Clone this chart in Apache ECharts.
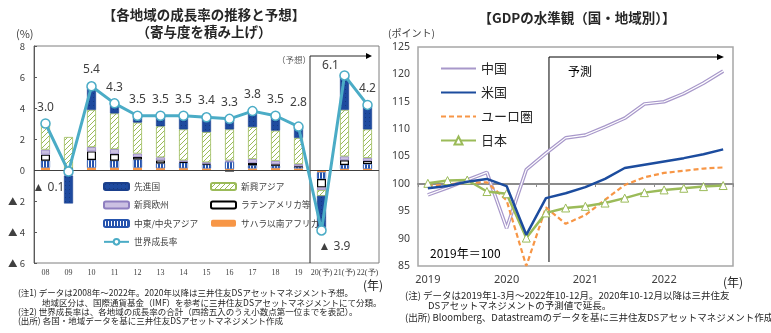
<!DOCTYPE html>
<html><head><meta charset="utf-8">
<script src="https://cdn.jsdelivr.net/npm/echarts@6/dist/echarts.min.js"></script>
<style>html,body{margin:0;padding:0;background:#fff}#c{width:771px;height:333px}</style>
</head><body><div id="c"></div>
<script>
// ---- Left chart data (contribution to world growth, %pt) ----
const growthCats = ['08','09','10','11','12','13','14','15','16','17','18','19','20(予)','21(予)','22(予)'];
const advanced = [0.0,-1.79,1.5,0.7,0.54,0.65,0.82,0.98,0.75,1.0,0.95,0.71,-2.2,2.28,1.5];
const emAsia   = [1.73,2.0,2.4,2.3,2.0,2.0,2.0,1.95,2.0,2.06,1.95,1.69,-0.37,3.0,1.84];
const emEurope = [0.32,-0.37,0.28,0.32,0.22,0.2,0.1,0.1,0.1,0.26,0.22,0.15,-0.17,0.25,0.2];
const latam    = [0.39,0.02,0.55,0.43,0.17,0.2,0.05,0.05,-0.1,0.15,0.1,0.03,-0.55,0.3,0.2];
const mideast  = [0.45,0.07,0.5,0.45,0.52,0.3,0.35,0.25,0.45,0.2,0.15,0.1,-0.43,0.25,0.3];
const ssa      = [0.15,0.04,0.15,0.15,0.15,0.12,0.12,0.1,0.07,0.1,0.12,0.1,-0.15,0.08,0.08];
const world    = [3.0,-0.1,5.4,4.3,3.5,3.5,3.5,3.4,3.3,3.8,3.5,2.8,-3.9,6.1,4.2];
const growthTicks = [-6,-4,-2,0,2,4,6,8];

// ---- Right chart data (GDP level, 2019=100) ----
const quarters = ['2019-1','2019-2','2019-3','2019-4','2020-1','2020-2','2020-3','2020-4',
                  '2021-1','2021-2','2021-3','2021-4','2022-1','2022-2','2022-3','2022-4'];
const china = [98.0,99.3,100.7,102.1,91.9,102.6,105.6,108.4,108.9,110.4,112.0,114.6,115.0,116.5,118.4,120.6];
const us    = [99.2,99.6,100.4,100.9,99.6,90.7,97.4,98.3,99.4,100.9,102.9,103.5,104.1,104.7,105.4,106.3];
const euro  = [99.6,99.9,100.2,100.3,97.0,85.0,95.7,92.7,94.3,97.1,99.8,101.2,102.0,102.4,102.8,103.0];
const japan = [100.1,100.6,100.7,98.6,98.2,90.1,94.7,95.6,95.9,96.5,97.4,98.4,98.9,99.2,99.5,99.7];

const JP = '"Noto Sans CJK JP","Noto Sans",sans-serif';

function pat(w,h,draw){const c=document.createElement('canvas');c.width=w;c.height=h;const g=c.getContext('2d');draw(g,w,h);return {image:c,repeat:'repeat'};}
const hatchGreen = pat(5,5,(g)=>{g.fillStyle='#fff';g.fillRect(0,0,5,5);g.strokeStyle='#9bbb59';g.lineWidth=1;g.beginPath();
  g.moveTo(0,5);g.lineTo(5,0);g.moveTo(-1,1);g.lineTo(1,-1);g.moveTo(4,6);g.lineTo(6,4);g.stroke();});
const stripeBlue = pat(3,3,(g)=>{g.fillStyle='#2553ad';g.fillRect(0,0,3,3);g.fillStyle='#fff';g.fillRect(1,0,1,3);});
const dotBlue = pat(4,4,(g)=>{g.fillStyle='#1e4a9f';g.fillRect(0,0,4,4);g.fillStyle='#163a80';g.fillRect(1,1,1,1);});

const chart = echarts.init(document.getElementById('c'), null, {renderer:'canvas'});

function bar(name, data, style){
  return {name, type:'bar', stack:'g', xAxisIndex:0, yAxisIndex:0, barWidth:9, data, itemStyle:style};
}
const labelFmt = p => (p.value<0 ? '▲ '+Math.abs(p.value).toFixed(1) : p.value.toFixed(1));
const worldData = world.map((v,i)=>{
  const d={value:v};
  if(i===1) d.label={position:'bottom',offset:[-20,0]};
  if(i===12) d.label={position:'bottom',offset:[13,0]};
  if(i===13) d.label={position:'top',offset:[-14,6]};
  if(i===11) d.label={position:'top',offset:[0,-8]};
  return d;
});
const noSym = n => ({name:n, itemStyle:{opacity:0}});

const option = {
  animation:false,
  textStyle:{fontFamily:JP},
  grid:[
    {left:34, top:46, width:345, height:217, show:true, borderColor:'#7f7f7f', borderWidth:1},
    {left:418, top:47, width:315, height:219, show:true, borderColor:'#a6a6a6', borderWidth:1.5}
  ],
  xAxis:[
    {gridIndex:0, type:'category', data:growthCats, axisLine:{show:false}, axisTick:{show:false},
     axisLabel:{fontSize:8, color:'#404040', margin:6, fontFamily:'"Liberation Serif",serif', interval:0}},
    {gridIndex:1, type:'category', data:quarters, axisLine:{show:false}, axisTick:{show:false},
     axisLabel:{fontSize:11, color:'#404040', margin:8, interval:3, formatter:v=>v.split('-')[0], fontFamily:'"Noto Sans",sans-serif'}},
    {gridIndex:1, type:'category', data:quarters, position:'bottom', offset:-82,
     axisLine:{show:true, lineStyle:{color:'#8c8c8c', width:2}},
     axisTick:{show:true, length:3, lineStyle:{color:'#8c8c8c'}}, axisLabel:{show:false}}
  ],
  yAxis:[
    {gridIndex:0, type:'value', min:-6, max:8, interval:2, splitLine:{show:false},
     axisLine:{show:true, lineStyle:{color:'#595959'}}, axisTick:{show:true, inside:true, length:3, lineStyle:{color:'#595959'}},
     axisLabel:{fontSize:9.5, color:'#404040', margin:9, formatter:v=>v<0?'▲ '+(-v):String(v)}},
    {gridIndex:1, type:'value', min:85, max:125, interval:5, splitLine:{show:false},
     axisLine:{show:false}, axisTick:{show:false},
     axisLabel:{fontSize:10.5, color:'#404040', margin:8, fontFamily:'"Noto Sans",sans-serif'}}
  ],
  legend:[
    {left:103, top:182, orient:'vertical', itemWidth:25, itemHeight:7, itemGap:9.5, padding:0,
     textStyle:{fontSize:8.7, color:'#404040', fontFamily:JP},
     data:['先進国','新興欧州','中東/中央アジア','世界成長率']},
    {left:210, top:182, orient:'vertical', itemWidth:25, itemHeight:7, itemGap:9.5, padding:0,
     textStyle:{fontSize:8.7, color:'#404040', fontFamily:JP},
     data:['新興アジア','ラテンアメリカ等','サハラ以南アフリカ']},
    {left:440, top:62, orient:'vertical', itemWidth:35, itemHeight:10, itemGap:11, padding:0,
     textStyle:{fontSize:13, color:'#262626', fontFamily:JP},
     data:[noSym('中国'),noSym('米国'),noSym('ユーロ圏'),'日本']}
  ],
  series:[
    bar('サハラ以南アフリカ', ssa, {color:'#f79646'}),
    bar('中東/中央アジア', mideast, {color:stripeBlue, borderColor:'#2553ad', borderWidth:0.5}),
    bar('ラテンアメリカ等', latam, {color:'#ffffff', borderColor:'#000', borderWidth:1.2}),
    bar('新興欧州', emEurope, {color:'#cbc0e2', borderColor:'#8f7fc0', borderWidth:0.8}),
    bar('新興アジア', emAsia, {color:hatchGreen, borderColor:'#9bbb59', borderWidth:0.8}),
    Object.assign(bar('先進国', advanced, {color:dotBlue, borderColor:'#1a3f8c', borderWidth:0.5}),
      {markLine:{silent:true, symbol:'none', label:{show:false}, lineStyle:{color:'#404040', width:1, type:'solid'}, data:[{yAxis:0}]}}),
    {name:'世界成長率', type:'line', xAxisIndex:0, yAxisIndex:0, data:worldData, z:5,
     lineStyle:{color:'#4bacc6', width:3}, itemStyle:{color:'#ffffff', borderColor:'#4bacc6', borderWidth:1.5},
     symbol:'circle', symbolSize:9, showAllSymbol:true,
     label:{show:true, position:'top', distance:5, fontSize:12, color:'#404040', formatter:labelFmt, fontFamily:'"Noto Sans",sans-serif'}},
    {name:'中国', type:'line', xAxisIndex:1, yAxisIndex:1, data:china, symbol:'none',
     lineStyle:{color:'#a898ca', width:3.6}, itemStyle:{color:'#a898ca'}},
    {name:'中国_inner', type:'line', xAxisIndex:1, yAxisIndex:1, data:china, symbol:'none', silent:true,
     lineStyle:{color:'#ffffff', width:1.2}},
    {name:'ユーロ圏', type:'line', xAxisIndex:1, yAxisIndex:1, data:euro, symbol:'none',
     lineStyle:{color:'#f79646', width:2.2, type:[5,3]}, itemStyle:{color:'#f79646'}},
    {name:'日本', type:'line', xAxisIndex:1, yAxisIndex:1, data:japan, symbol:'triangle', symbolSize:8,
     lineStyle:{color:'#9bbb59', width:2.5}, itemStyle:{color:'#ffffff', borderColor:'#9bbb59', borderWidth:1}},
    {name:'米国', type:'line', xAxisIndex:1, yAxisIndex:1, data:us, symbol:'none', z:4,
     lineStyle:{color:'#1c4c9e', width:2.5}, itemStyle:{color:'#1c4c9e'}}
  ]
};
chart.setOption(option);

// annotations positioned from axes
const xl = (chart.convertToPixel({xAxisIndex:0}, '19') + chart.convertToPixel({xAxisIndex:0}, '20(予)'))/2;
const xr = chart.convertToPixel({xAxisIndex:1}, '2020-3') + 3;
function txt(x,y,text,size,opt){return Object.assign({type:'text', x, y, silent:true,
  style:Object.assign({text, fontSize:size, fill:'#262626', fontFamily:JP, verticalAlign:'middle', align:'left'}, opt||{})});}
chart.setOption({graphic:[
  txt(204,15,'【各地域の成長率の推移と予想】',13.5,{align:'center', fontWeight:'bold'}),
  txt(204,32,'（寄与度を積み上げ）',13.5,{align:'center', fontWeight:'bold'}),
  txt(577,18,'【GDPの水準観（国・地域別）】',13.5,{align:'center', fontWeight:'bold'}),
  txt(16,34,'(%)',11,{fill:'#404040'}),
  txt(388,33,'(ポイント)',10,{fill:'#404040'}),
  txt(277,60,'（予想）',8.5,{fill:'#595959'}),
  txt(568,71,'予測',12,{fill:'#000'}),
  txt(430,253,'2019年＝100',12,{fill:'#000'}),
  txt(363,285,'(年)',12,{fill:'#262626'}),
  txt(723,282,'(年)',12,{fill:'#262626'}),
  txt(18,293,'(注1) データは2008年～2022年。2020年以降は三井住友DSアセットマネジメント予想。',8.5),
  txt(42,302.5,'地域区分は、国際通貨基金（IMF）を参考に三井住友DSアセットマネジメントにて分類。',8.5),
  txt(18,312,'(注2) 世界成長率は、各地域の成長率の合計（四捨五入のうえ小数点第一位までを表記）。',8.5),
  txt(18,321,'(出所) 各国・地域データを基に三井住友DSアセットマネジメント作成',8.5),
  txt(405,295,'(注) データは2019年1-3月～2022年10-12月。2020年10-12月以降は三井住友',9.5),
  txt(428,305,'DSアセットマネジメントの予測値で延長。',9.5),
  txt(405,317,'(出所) Bloomberg、Datastreamのデータを基に三井住友DSアセットマネジメント作成',9.5),
  {type:'polyline', silent:true, shape:{points:[[xl,263],[xl,56],[366,56]]}, style:{stroke:'#262626', lineWidth:1, fill:null}},
  {type:'polygon', silent:true, shape:{points:[[366,53],[372,56],[366,59]]}, style:{fill:'#000'}},
  {type:'polyline', silent:true, shape:{points:[[xr,262],[xr,57],[717,57]]}, style:{stroke:'#000', lineWidth:1, fill:null}},
  {type:'polygon', silent:true, shape:{points:[[717,54],[724,57],[717,60]]}, style:{fill:'#000'}}
]});
</script></body></html>
